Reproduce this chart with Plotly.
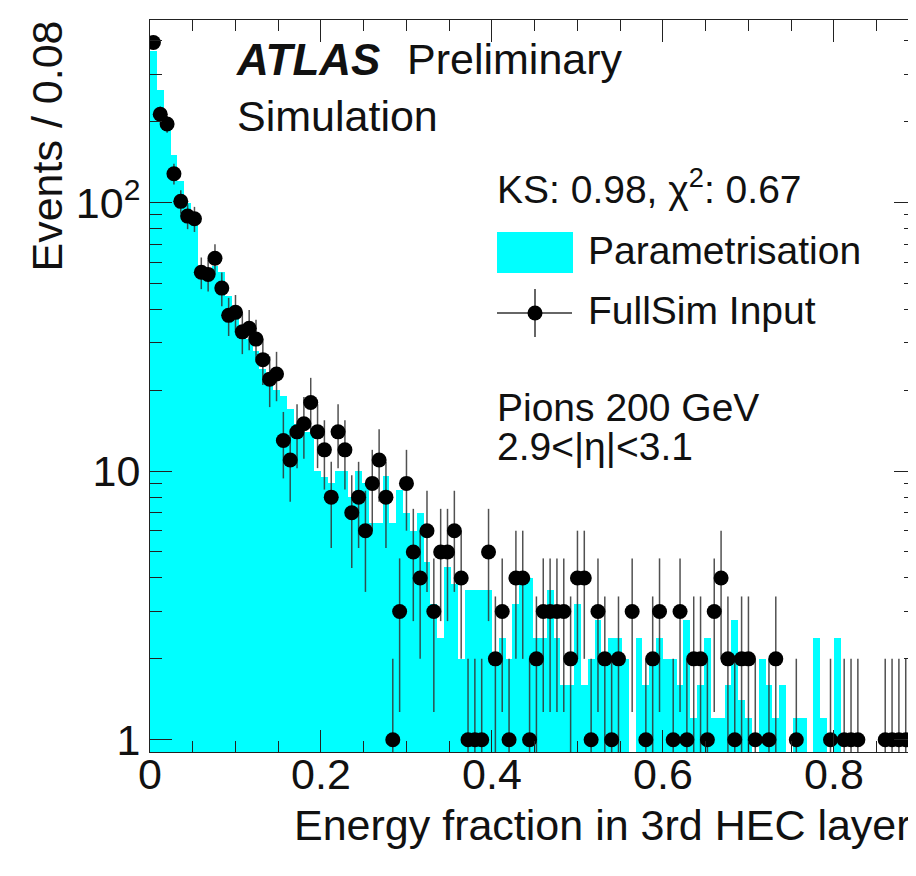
import numpy as np
import plotly.graph_objects as go

# ---------------- data ----------------
bin_width = 0.008
fullsim_counts = [394, 213, 196, 128, 101, 89, 87, 55, 54, 62,
                  48, 38, 39, 33, 34, 31, 26, 22, 23, 13,
                  11, 14, 15, 18, 14, 12, 8, 14, 12, 7,
                  8, 6, 9, 11, 8, 1, 3, 9, 5, 4,
                  6, 3, 5, 5, 6, 4, 1, 1, 1, 5,
                  2, 3, 1, 4, 4, 1, 2, 3, 3, 3,
                  3, 2, 4, 4, 1, 3, 2, 1, 2, 0,
                  3, 0, 1, 2, 3, 0, 1, 3, 1, 2,
                  2, 1, 3, 4, 2, 1, 2, 2, 1, 0,
                  1, 2, 0, 0, 1, 0, 0, 0, 0, 1,
                  0, 1, 1, 1, 0, 0, 0, 1, 1, 1,
                  1, 1]
param_values = [366, 262, 200, 150, 120, 100, 84, 57, 56, 58,
                55, 45, 40, 35, 31, 28, 24, 21, 20, 19,
                17, 15, 14, 14, 10, 9.5, 9, 10, 10, 8,
                10, 9, 6.4, 6.4, 9.6, 6.4, 8.5, 7, 6, 7,
                4.6, 3.2, 2.4, 4.4, 3.8, 2, 3.6, 3.6, 3.6, 3.6,
                2, 2.4, 2, 3.2, 4, 4, 2.4, 2.4, 3.6, 2.4,
                1.6, 1.6, 3.2, 1.6, 2, 2.8, 2, 2.4, 2.4, 2,
                0, 2.4, 1.6, 2, 2.4, 2, 2, 1.6, 2.8, 1.2,
                1.6, 2.4, 1.2, 1.2, 1.6, 2.8, 1.4, 1.2, 0, 2,
                1.6, 1.2, 1.6, 0, 1.2, 1.2, 0, 2.4, 1.2, 0,
                2.4, 0, 0, 0, 0, 0, 0, 0, 0, 0,
                0, 0]
x_tick_vals = [0, 0.2, 0.4, 0.6, 0.8]
x_tick_text = ["0", "0.2", "0.4", "0.6", "0.8"]
y_tick_vals = [1, 10, 100]
y_tick_text = ["1", "10", "10<sup>2</sup>"]

# ---------------- derived ----------------
n = len(fullsim_counts)
centers = (np.arange(n) + 0.5) * bin_width
hist_y = [v if v > 0 else None for v in param_values]
pts_y = [c if c > 0 else None for c in fullsim_counts]
pts_err = [float(np.sqrt(c)) if c > 0 else None for c in fullsim_counts]

FONT = "Liberation Sans, Arial, sans-serif"
TXT = "#111111"

fig = go.Figure()
fig.add_trace(go.Bar(x=centers, y=hist_y, width=bin_width,
                     marker=dict(color="#00FFFF", line=dict(width=0)),
                     showlegend=False, hoverinfo="skip"))
fig.add_trace(go.Scatter(x=centers, y=pts_y, mode="markers",
                         marker=dict(color="black", size=15, line=dict(width=0)),
                         error_y=dict(type="data", array=pts_err, visible=True,
                                      color="rgba(50,50,50,0.85)", thickness=1.5, width=0),
                         showlegend=False, hoverinfo="skip"))

# page body has an 8px margin; lay out in page pixel coordinates
OFF = 8
W, H = 916 - OFF, 876 - OFF
L, T, R = 150 - OFF, 20 - OFF, 0
B = H - (752 - OFF)
pw, ph = W - L - R, H - T - B

def px(x):
    return (x - OFF - L) / pw

def py(y):
    return (H - B - (y - OFF)) / ph

minor_x = [round(0.05 * k, 2) for k in range(1, 18) if k % 4 != 0]
minor_y = [m * d for d in (1, 10, 100) for m in range(2, 10) if m * d < 480]

fig.update_layout(
    width=W, height=H,
    margin=dict(l=L, r=R, t=T, b=B),
    paper_bgcolor="white", plot_bgcolor="white",
    bargap=0,
    font=dict(family=FONT, color=TXT),
    xaxis=dict(range=[0, 0.896], tickvals=x_tick_vals, ticktext=x_tick_text,
               ticks="inside", ticklen=22, tickwidth=1, tickcolor="#222",
               showline=True, linecolor="#222", linewidth=1, mirror="ticks",
               showgrid=False, zeroline=False, ticklabelstandoff=-16,
               tickfont=dict(size=43, family=FONT, color=TXT),
               minor=dict(tickvals=minor_x, ticks="inside", ticklen=11,
                          tickcolor="#222", tickwidth=1, showgrid=False)),
    yaxis=dict(type="log", range=[np.log10(0.9), np.log10(478)],
               tickvals=y_tick_vals, ticktext=y_tick_text,
               ticks="inside", ticklen=22, tickwidth=1, tickcolor="#222",
               showline=True, linecolor="#222", linewidth=1, mirror="ticks",
               showgrid=False, zeroline=False,
               tickfont=dict(size=43, family=FONT, color=TXT),
               minor=dict(tickvals=minor_y, ticks="inside", ticklen=12,
                          tickcolor="#222", tickwidth=1, showgrid=False)),
)

ann = []
def add_text(text, x, y, size, xanchor="left", yanchor="middle", angle=0):
    ann.append(dict(text=text, x=px(x), y=py(y), xref="paper", yref="paper",
                    xanchor=xanchor, yanchor=yanchor, showarrow=False,
                    textangle=angle, font=dict(size=size, family=FONT, color=TXT)))

add_text("<b><i>ATLAS</i></b>", 234, 59, 44)
add_text("Preliminary", 405, 59, 43)
add_text("Simulation", 235, 116, 43)
add_text("KS: 0.98, χ<sup>2</sup>: 0.67", 495, 187, 39)
add_text("Parametrisation", 586, 251, 39)
add_text("FullSim Input", 586, 310, 39)
add_text("Pions 200 GeV", 495, 407, 39)
add_text("2.9<|η|<3.1", 495, 446, 39)
add_text("Energy fraction in 3rd HEC layer", 913, 825, 43, xanchor="right")
add_text("Events / 0.08", 47, 19, 43, xanchor="center", yanchor="top", angle=-90)
fig.update_layout(annotations=ann)

# legend symbols
fig.add_shape(type="rect", xref="paper", yref="paper",
              x0=px(497), x1=px(573), y0=py(273), y1=py(232),
              fillcolor="#00FFFF", line=dict(width=0))
fig.add_shape(type="line", xref="paper", yref="paper",
              x0=px(497), x1=px(572), y0=py(313), y1=py(313),
              line=dict(color="#333", width=1.5))
fig.add_shape(type="line", xref="paper", yref="paper",
              x0=px(535), x1=px(535), y0=py(289), y1=py(337),
              line=dict(color="#333", width=1.5))
fig.add_shape(type="circle", xref="paper", yref="paper",
              xsizemode="pixel", ysizemode="pixel",
              xanchor=px(535), yanchor=py(313),
              x0=-7.5, x1=7.5, y0=-7.5, y1=7.5,
              fillcolor="black", line=dict(width=0))

fig.write_html("out.html")
